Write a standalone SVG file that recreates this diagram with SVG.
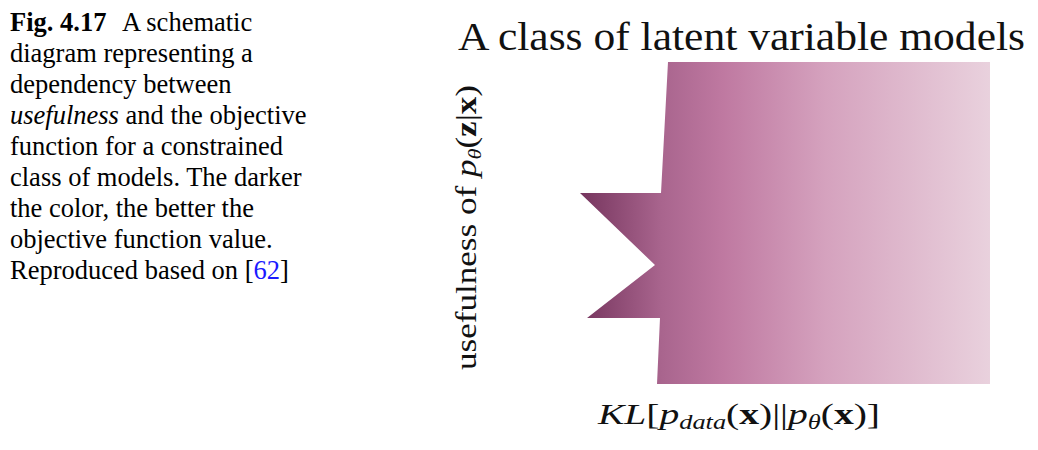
<svg xmlns="http://www.w3.org/2000/svg" width="1038" height="450" viewBox="0 0 1038 450">
<style>
.cap{font-family:"Liberation Serif","Times New Roman",serif;font-size:26.5px;fill:#000}
.math{font-family:"Liberation Serif","DejaVu Serif",serif;fill:#111}
</style>
<defs>
<linearGradient id="grad" gradientUnits="userSpaceOnUse" x1="580" y1="0" x2="990" y2="0">
<stop offset="0" stop-color="#76355e"/>
<stop offset="0.2" stop-color="#a9658e"/>
<stop offset="0.35" stop-color="#bf79a1"/>
<stop offset="0.6" stop-color="#d5a2be"/>
<stop offset="1" stop-color="#e9d1dd"/>
</linearGradient>
</defs>
<rect width="1038" height="450" fill="#fff"/>
<g id="caption" class="cap">
<text x="10" y="31"><tspan font-weight="bold">Fig. 4.17</tspan><tspan x="122">A schematic</tspan></text>
<text x="10" y="62">diagram representing a</text>
<text x="10" y="93">dependency between</text>
<text x="10" y="124"><tspan font-style="italic">usefulness</tspan> and the objective</text>
<text x="10" y="155">function for a constrained</text>
<text x="10" y="186">class of models. The darker</text>
<text x="10" y="217">the color, the better the</text>
<text x="10" y="248">objective function value.</text>
<text x="10" y="279">Reproduced based on [<tspan fill="#1a1aff">62</tspan>]</text>
</g>
<g id="title">
<text class="math" x="458" y="50" font-size="39" textLength="567" lengthAdjust="spacingAndGlyphs">A class of latent variable models</text>
</g>
<g id="region">
<polygon points="668,62 990,62 990,384 657,384 660,318 587,318 655,265 580,193 661,193" fill="url(#grad)"/>
</g>
<g id="ylabel">
<text class="math" font-size="30" transform="translate(476,370) rotate(-90)" textLength="285" lengthAdjust="spacingAndGlyphs">usefulness of <tspan font-style="italic">p</tspan><tspan font-style="italic" font-size="19" dy="5">θ</tspan><tspan dy="-5">(</tspan><tspan font-weight="bold">z</tspan>|<tspan font-weight="bold">x</tspan>)</text>
</g>
<g id="xlabel">
<text class="math" font-size="30" x="598" y="424" textLength="282" lengthAdjust="spacingAndGlyphs"><tspan font-style="italic">KL</tspan>[<tspan font-style="italic">p</tspan><tspan font-style="italic" font-size="20" dy="5">data</tspan><tspan dy="-5">(</tspan><tspan font-weight="bold">x</tspan>)||<tspan font-style="italic">p</tspan><tspan font-style="italic" font-size="20" dy="5">θ</tspan><tspan dy="-5">(</tspan><tspan font-weight="bold">x</tspan>)]</text>
</g>
</svg>
